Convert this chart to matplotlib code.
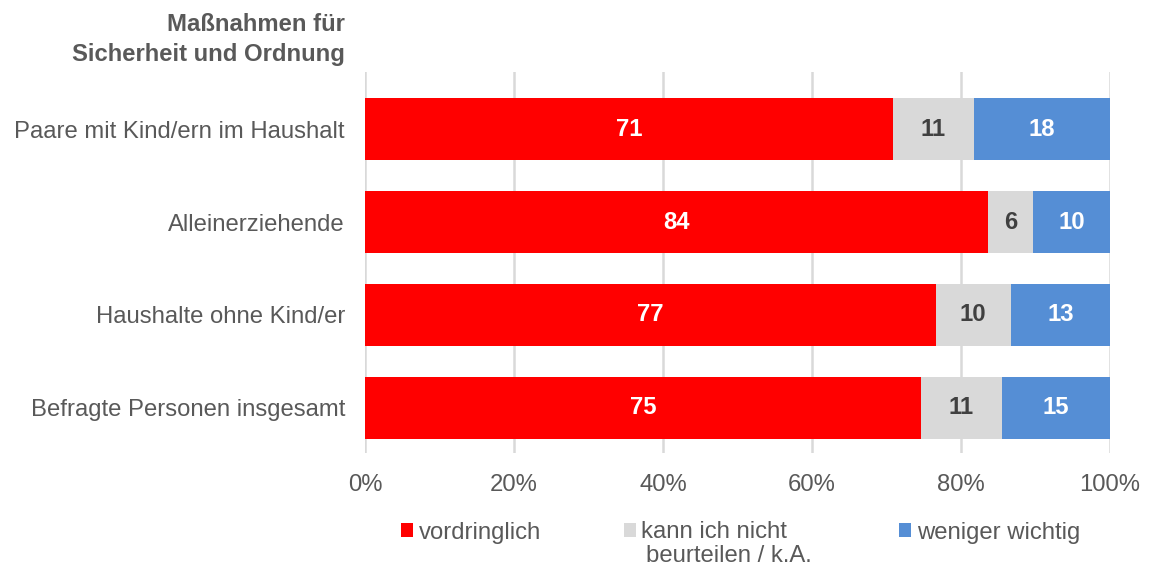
import matplotlib.pyplot as plt

plt.rcParams["font.family"] = ["Liberation Sans", "DejaVu Sans"]

categories = ["Paare mit Kind/ern im Haushalt", "Alleinerziehende",
              "Haushalte ohne Kind/er", "Befragte Personen insgesamt"]
series_names = ["vordringlich", "kann ich nicht", "weniger wichtig"]
legend_second_line = "beurteilen / k.A."
vordringlich = [70.9, 83.6, 76.6, 74.6]
kann_nicht = [10.8, 6.1, 10.1, 10.9]
weniger = [18.3, 10.3, 13.3, 14.5]
labels_vordringlich = [71, 84, 77, 75]
labels_kann_nicht = [11, 6, 10, 11]
labels_weniger = [18, 10, 13, 15]

colors = ["#FF0000", "#D9D9D9", "#558ED5"]
label_colors = ["white", "#404040", "white"]
text_gray = "#595959"
fs = 17.2

fig = plt.figure(figsize=(11.5, 5.67), dpi=100)
ax = fig.add_axes([365 / 1150, 114 / 567, 745 / 1150, 381 / 567])

y = list(range(len(categories)))
left = [0] * len(categories)
all_values = [vordringlich, kann_nicht, weniger]
all_labels = [labels_vordringlich, labels_kann_nicht, labels_weniger]
for values, lbls, name, color, lcolor in zip(all_values, all_labels, series_names,
                                              colors, label_colors):
    bars = ax.barh(y, values, left=left, height=0.667, color=color, label=name)
    ax.bar_label(bars, labels=[str(v) for v in lbls], label_type="center",
                 color=lcolor, fontsize=fs, fontweight="bold")
    left = [a + b for a, b in zip(left, values)]

ax.set_xlim(0, 100)
ax.set_ylim(3.484, -0.613)
ax.set_xticks(range(0, 101, 20))
ax.set_xticklabels([f"{v}%" for v in range(0, 101, 20)])
ax.set_yticks(y)
ax.set_yticklabels(categories)
ax.tick_params(axis="both", length=0, labelsize=fs, labelcolor=text_gray)
ax.tick_params(axis="y", pad=14.4)
ax.tick_params(axis="x", pad=15)
ax.grid(axis="x", color="#D9D9D9", linewidth=1.8)
ax.set_axisbelow(True)
for s in ax.spines.values():
    s.set_visible(False)

fig.text(345 / 1150, 1 - 13 / 567, "Maßnahmen für\nSicherheit und Ordnung",
         ha="right", va="top", multialignment="right", fontsize=fs,
         fontweight="bold", color=text_gray, linespacing=1.4)

# Legend: first two entries, then the wrapped second line, then the last entry
handles, lab = ax.get_legend_handles_labels()
leg_kw = dict(frameon=False, borderpad=0, borderaxespad=0, fontsize=fs,
              handlelength=0.5, handleheight=0.5, handletextpad=0.25,
              columnspacing=3.45, labelcolor=text_gray)
legend_top = 1 - 521.5 / 567
leg1 = fig.legend(handles[:2], lab[:2], loc="upper left", ncol=2,
                  bbox_to_anchor=(401 / 1150, legend_top), **leg_kw)

fig.canvas.draw()
inv = fig.transFigure.inverted()
bb = leg1.get_texts()[1].get_window_extent().transformed(inv)
t2 = fig.text(bb.x0 + 5 / 1150, bb.y0 - 2 / 567, legend_second_line,
              ha="left", va="top", fontsize=fs, color=text_gray)

fig.canvas.draw()
bb2 = t2.get_window_extent().transformed(inv)
leg2 = fig.legend(handles[2:], lab[2:], loc="upper left", ncol=1,
                  bbox_to_anchor=(bb2.x1 + 87 / 1150, legend_top), **leg_kw)

fig.savefig("out.png", dpi=100)
